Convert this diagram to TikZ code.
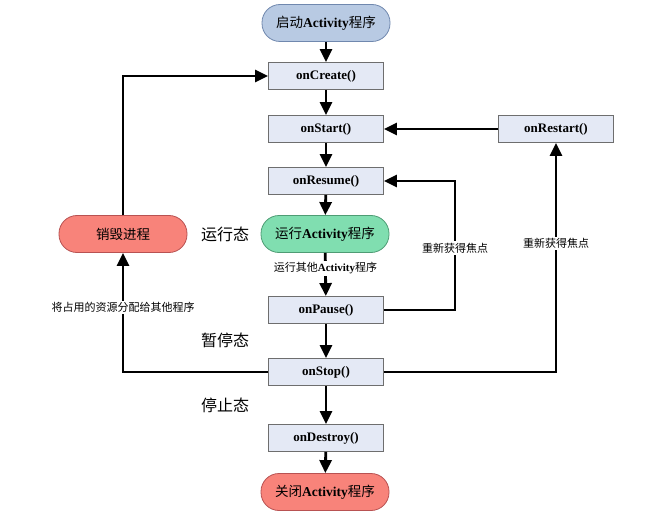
\documentclass[tikz,border=0pt]{standalone}
\usepackage{fontspec}
\setmainfont{Liberation Serif}
\newfontfamily\cjk{Noto Sans CJK SC}
\usetikzlibrary{arrows.meta}
\definecolor{boxfill}{HTML}{E4E9F5}
\definecolor{boxline}{HTML}{6E6E6E}
\definecolor{startfill}{HTML}{B8CAE3}
\definecolor{startline}{HTML}{7088AE}
\definecolor{runfill}{HTML}{80DEB0}
\definecolor{runline}{HTML}{4E9C74}
\definecolor{endfill}{HTML}{F8837A}
\definecolor{endline}{HTML}{B85252}
\newcommand{\zh}[1]{{\cjk #1}}

\begin{document}
\begin{tikzpicture}[x=1pt,y=-1pt,
	method/.style={draw=boxline,fill=boxfill,line width=0.9pt,minimum width=115pt,minimum height=27pt,
		font=\bfseries\fontsize{13}{13}\selectfont},
	pill/.style={rounded corners=18pt,line width=0.8pt,minimum width=128pt,minimum height=37pt,
		font=\fontsize{13.5}{13.5}\selectfont},
	state/.style={font=\cjk\fontsize{16}{16}\selectfont},
	hint/.style={fill=white,inner sep=1.5pt,font=\cjk\fontsize{11}{11}\selectfont},
	flow/.style={line width=2.8pt,-{Triangle[length=13pt,width=12pt]}}]
	\useasboundingbox (0,0) rectangle (672,516);
	% lifecycle column
	\node[pill,draw=startline,fill=startfill] (launch) at (326,23) {\zh{启动}\textbf{Activity}\zh{程序}};
	\node[method] (create) at (326,76) {onCreate()};
	\node[method] (start) at (326,129) {onStart()};
	\node[method] (resume) at (326,181) {onResume()};
	\node[pill,draw=runline,fill=runfill] (running) at (325,234) {\zh{运行}\textbf{Activity}\zh{程序}};
	\node[method] (pause) at (326,310) {onPause()};
	\node[method] (stop) at (326,372) {onStop()};
	\node[method] (destroy) at (326,438) {onDestroy()};
	\node[pill,draw=endline,fill=endfill] (close) at (325,492) {\zh{关闭}\textbf{Activity}\zh{程序}};
	% side nodes
	\node[method] (restart) at (556,129) {onRestart()};
	\node[pill,draw=endline,fill=endfill,font=\cjk\fontsize{13.5}{13.5}\selectfont] (kill) at (123,234) {销毁进程};
	\node[state] (srun) at (225,234) {运行态};
	\node[state] (spause) at (225,340) {暂停态};
	\node[state] (sstop) at (225,405) {停止态};
	\coordinate (back) at (455,0);

	\draw[flow] (launch) -- (create);
	\draw[flow] (create) -- (start);
	\draw[flow] (start) -- (resume);
	\draw[flow] (resume) -- (running);
	\draw[flow] (running) -- node[pos=0.36,hint]{运行其他{\rmfamily\bfseries Activity}程序} (pause);
	\draw[flow] (pause) -- (stop);
	\draw[flow] (stop) -- (destroy);
	\draw[flow] (destroy) -- (close);
	\draw[flow] (restart) -- (start);
	\draw[flow] (pause) -- (pause -| back) |- node[pos=0.24,hint]{重新获得焦点} (resume);
	\draw[flow] (stop) -| node[pos=0.78,hint]{重新获得焦点} (restart);
	\draw[flow] (stop) -| node[pos=0.77,hint]{将占用的资源分配给其他程序} (kill);
	\draw[flow] (kill) |- (create);
\end{tikzpicture}
\end{document}
